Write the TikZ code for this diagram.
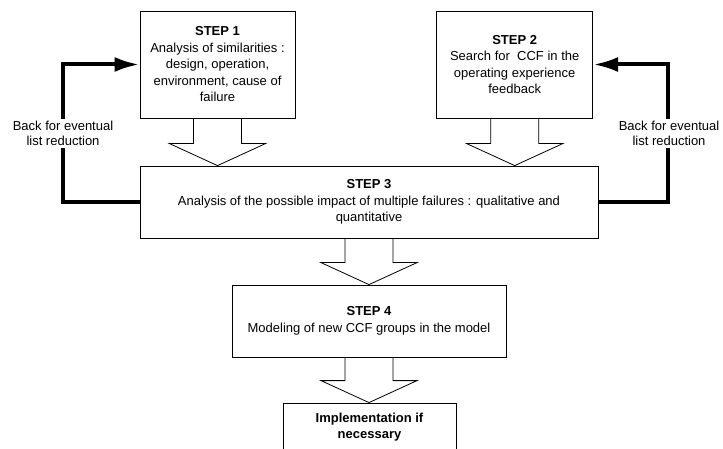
\documentclass[tikz,border=0pt]{standalone}
\usepackage{fontspec}
\setmainfont{Liberation Sans}
\usepackage{tikz}
\usetikzlibrary{calc,arrows.meta}

\tikzset{
  stepbox/.style={draw, line width=0.8pt, align=center, inner sep=2pt,
    font=\fontsize{13}{16.5}\selectfont},
  hollow/.style={draw, line width=0.8pt, line join=miter},
  back/.style={line width=4pt, ->},
  note/.style={fill=white, align=center, inner sep=2pt,
    font=\fontsize{13}{15}\selectfont}
}

% wide hollow arrow from the bottom of one box to the top of the next
\newcommand{\hollowarrow}[2]{%
  \coordinate (tip) at (#1.south |- #2.north);
  \draw[hollow] ($(#1.south)+(-24,0)$) -- ($(tip)+(-24,-22)$)
    -- ($(tip)+(-48,-22)$) -- (tip) -- ($(tip)+(48,-22)$)
    -- ($(tip)+(24,-22)$) -- ($(#1.south)+(24,0)$);
}

\begin{document}
\begin{tikzpicture}[x=1pt, y=-1pt, >={Latex[length=25pt,width=15pt]}]
      % Page frame
      \clip (0,0) rectangle (723,449);

      % The four steps
      \node[stepbox, minimum width=155, minimum height=107] (step1) at (217.5,64.5)
        {\textbf{STEP 1}\\Analysis of similarities :\\design, operation,\\environment, cause of\\failure};
      \node[stepbox, minimum width=156, minimum height=107] (step2) at (514.7,64.5)
        {\textbf{STEP 2}\\Search for\ \ CCF in the\\operating experience\\feedback};
      \node[stepbox, minimum width=458, minimum height=72] (step3) at (369,202)
        {\textbf{STEP 3}\\Analysis of the possible impact of multiple failures : qualitative and\\quantitative};
      \node[stepbox, minimum width=274, minimum height=72] (step4) at (369,321)
        {\textbf{STEP 4}\\Modeling of new CCF groups in the model};

      % Last box runs off the bottom of the page
      \node[stepbox, minimum width=173, minimum height=48] (impl) at (369.5,427)
        {\textbf{Implementation if}\\\textbf{necessary}};

      % Hollow arrows between steps
      \hollowarrow{step1}{step3}
      \hollowarrow{step2}{step3}
      \hollowarrow{step3}{step4}
      \hollowarrow{step4}{impl}

      % Feedback loops
      \draw[back] (step3.west) -- ++(-77,0) |- (step1.west);
      \draw[back] (step3.east) -- ++(70,0) |- (step2.east);
      \node[note] (backl) at (63,133.5) {Back for eventual\\list reduction};
      \node[note] (backr) at (669,133.5) {Back for eventual\\list reduction};
    \end{tikzpicture}
\end{document}
